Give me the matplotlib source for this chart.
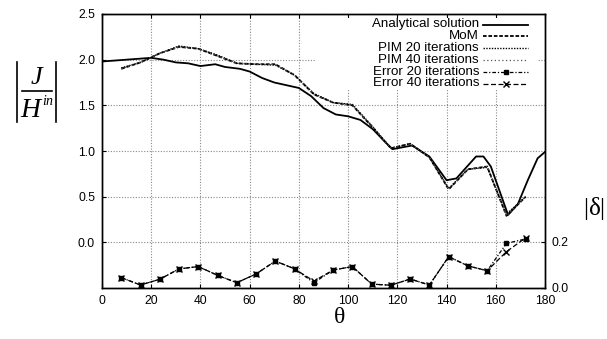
import numpy as np
import matplotlib
matplotlib.use("Agg")
import matplotlib.pyplot as plt
from matplotlib.lines import Line2D
from matplotlib.patches import Rectangle

plt.rcParams['font.family'] = ['Liberation Sans', 'DejaVu Sans']
plt.rcParams['mathtext.fontset'] = 'custom'
plt.rcParams['mathtext.it'] = 'Liberation Serif:italic'
plt.rcParams['mathtext.rm'] = 'Liberation Serif'

# Analytical solution
theta_an = [0, 5, 10, 20, 25, 30, 35, 40, 46, 50, 56, 60, 65, 70, 75, 80, 85, 90, 95,
            100, 105, 110, 115, 118, 122, 126, 133, 140, 144, 148, 152, 155, 158, 165,
            169, 173, 177, 180]
J_an = [1.98, 1.99, 2.00, 2.02, 2.00, 1.97, 1.96, 1.93, 1.95, 1.92, 1.90, 1.87, 1.80,
        1.75, 1.72, 1.69, 1.60, 1.47, 1.40, 1.38, 1.34, 1.24, 1.10, 1.02, 1.04, 1.06,
        0.94, 0.68, 0.70, 0.82, 0.94, 0.94, 0.83, 0.30, 0.42, 0.68, 0.92, 0.99]

# Numerical sample angles
theta_num = [7.83, 15.65, 23.48, 31.30, 39.13, 46.96, 54.78, 62.61, 70.43, 78.26, 86.09,
             93.91, 101.74, 109.57, 117.39, 125.22, 133.04, 140.87, 148.70, 156.52,
             164.35, 172.17]
J_mom = [1.90, 1.97, 2.07, 2.14, 2.12, 2.04, 1.96, 1.95, 1.95, 1.83, 1.62, 1.53, 1.50,
         1.27, 1.03, 1.08, 0.93, 0.58, 0.80, 0.83, 0.29, 0.50]
J_pim20 = [1.91, 1.97, 2.07, 2.15, 2.12, 2.05, 1.96, 1.95, 1.94, 1.83, 1.63, 1.53, 1.51,
           1.28, 1.03, 1.08, 0.93, 0.59, 0.80, 0.82, 0.31, 0.50]
J_pim40 = [1.90, 1.97, 2.07, 2.14, 2.12, 2.04, 1.96, 1.95, 1.95, 1.83, 1.62, 1.53, 1.50,
           1.27, 1.03, 1.08, 0.93, 0.58, 0.80, 0.83, 0.29, 0.50]
err20 = [0.045, 0.013, 0.038, 0.083, 0.093, 0.055, 0.023, 0.061, 0.117, 0.083, 0.023,
         0.078, 0.093, 0.017, 0.012, 0.039, 0.013, 0.136, 0.096, 0.075, 0.194, 0.213]
err40 = [0.045, 0.013, 0.038, 0.083, 0.093, 0.055, 0.023, 0.061, 0.117, 0.083, 0.030,
         0.078, 0.093, 0.017, 0.012, 0.039, 0.013, 0.136, 0.096, 0.075, 0.158, 0.218]

xticks = [0, 20, 40, 60, 80, 100, 120, 140, 160, 180]
yticks = [0.0, 0.5, 1.0, 1.5, 2.0, 2.5]
y2ticks = [0.0, 0.2]
labels = ['Analytical solution', 'MoM', 'PIM 20 iterations', 'PIM 40 iterations',
          'Error 20 iterations', 'Error 40 iterations']

W, H = 607, 339
fig = plt.figure(figsize=(W / 100, H / 100), dpi=100)
ax = fig.add_axes([102 / W, 1 - 288 / H, (545 - 102) / W, (288 - 14) / H])
ax2 = ax.twinx()

ax.set_xlim(0, 180)
ax.set_ylim(-0.5, 2.5)
ax2.set_ylim(0, 1.19)

ax.grid(True, linestyle=(0, (1, 1.5)), color='#888888', linewidth=0.8)
ax.set_xticks(xticks)
ax.set_xticklabels([str(t) for t in xticks])
ax.set_yticks(yticks)
ax.set_yticklabels([f"{t:.1f}" for t in yticks])
ax2.set_yticks(y2ticks)
ax2.set_yticklabels([f"{t:.1f}" for t in y2ticks])

for a in (ax, ax2):
    a.tick_params(direction='in', length=3, labelsize=8.7, pad=5, width=0.8)
    for s in a.spines.values():
        s.set_linewidth(1.0)
ax.tick_params(top=True)

styles = [
    dict(color='black', lw=1.3, ls='-'),
    dict(color='black', lw=1.3, ls=(0, (2, 1))),
    dict(color='black', lw=1.0, ls=(0, (1, 1))),
    dict(color='#555555', lw=0.9, ls=(0, (1, 2))),
    dict(color='black', lw=0.9, ls=(0, (3, 1.5, 1, 1.5)), marker='s', ms=3.5),
    dict(color='black', lw=0.9, ls=(0, (4, 2)), marker='x', ms=4, mew=1.0),
]

ax.plot(theta_an, J_an, **styles[0])
ax.plot(theta_num, J_mom, **styles[1])
ax.plot(theta_num, J_pim20, **styles[2])
ax.plot(theta_num, J_pim40, **styles[3])
ax2.plot(theta_num, err20, **styles[4])
ax2.plot(theta_num, err40, **styles[5])

def fx(px):
    return px / W

def fy(py):
    return 1 - py / H

# gnuplot-style key: right-aligned labels, samples to the right, white background
fig.add_artist(Rectangle((fx(315), fy(89)), (537 - 315) / W, (89 - 18) / H,
                         transform=fig.transFigure, facecolor='white',
                         edgecolor='none', zorder=5))
row0, dy = 24.5, 11.8
for i, (lab, st) in enumerate(zip(labels, styles)):
    yp = row0 + i * dy
    fig.text(fx(479), fy(yp), lab, ha='right', va='center', fontsize=9.6, zorder=6)
    st2 = dict(st)
    if 'marker' in st2:
        st2['markevery'] = [1]
    fig.add_artist(Line2D([fx(483), fx(505.5), fx(528)], [fy(yp)] * 3,
                          transform=fig.transFigure, zorder=6, **st2))

# x label
fig.text(fx(339), fy(317), r'$\mathrm{\theta}$', fontsize=17, ha='center', va='center')

# y label |J / H^in| built from pieces
for bx in (16.5, 56):
    fig.add_artist(Line2D([fx(bx), fx(bx)], [fy(62), fy(122)], color='black', lw=1.2,
                          transform=fig.transFigure))
fig.add_artist(Line2D([fx(22), fx(52)], [fy(91), fy(91)], color='black', lw=1.2,
                      transform=fig.transFigure))
fig.text(fx(37), fy(77), r'$J$', fontsize=19, ha='center', va='center')
fig.text(fx(32), fy(110), r'$H$', fontsize=20, ha='center', va='center')
fig.text(fx(48.5), fy(101), r'$in$', fontsize=10, ha='center', va='center')

# right label
fig.text(fx(594), fy(208), r'$|\mathrm{\delta}|$', fontsize=18, ha='center', va='center')

fig.savefig('out.png', dpi=100)
